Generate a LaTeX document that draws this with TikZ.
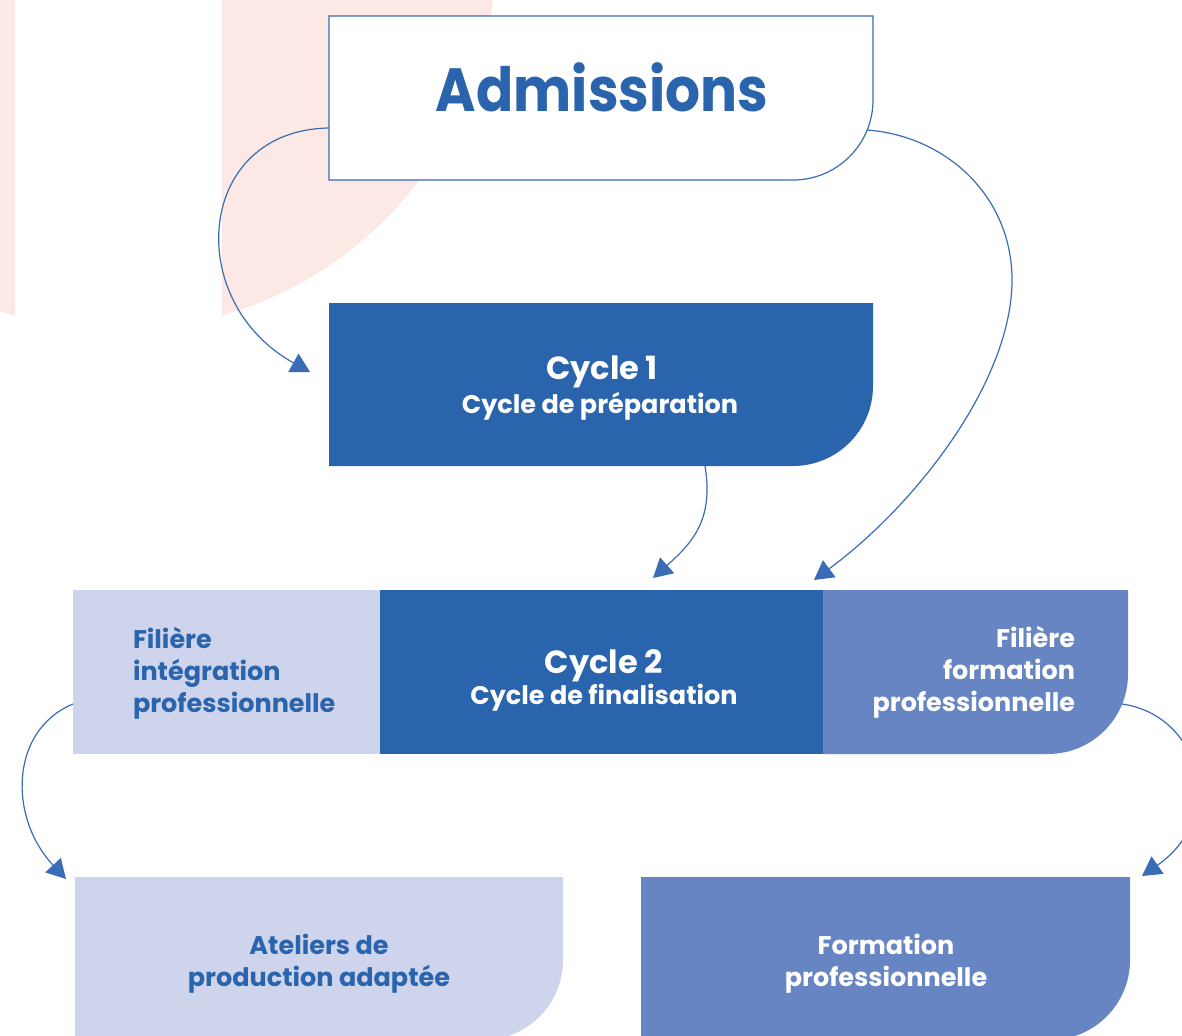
\documentclass[tikz,border=0pt]{standalone}
\usepackage{fontspec}
\usepackage{graphicx}
\setmainfont{Poppins}
\usetikzlibrary{arrows.meta,calc}
\definecolor{dblue}{HTML}{2964AC}
\definecolor{lav}{HTML}{CED4EC}
\definecolor{mblue}{HTML}{6785C2}
\definecolor{pinkbg}{HTML}{FCE8E5}
\definecolor{lineblue}{HTML}{3A6DB5}
\begin{document}
\begin{tikzpicture}[x=1pt,y=-1pt,
  box/.style={rectangle,inner sep=0pt,outer sep=0pt,draw=none},
  conn/.style={draw=lineblue,line width=1.2pt,-{Triangle[length=19pt,width=21pt]}},
  big/.style={font=\bfseries\fontsize{61}{66}\selectfont},
  ttl/.style={font=\bfseries\fontsize{32}{36}\selectfont},
  sub/.style={font=\bfseries\fontsize{25.5}{32}\selectfont},
  txt/.style={inner sep=0pt,outer sep=0pt,anchor=base}]
\useasboundingbox (0,0) rectangle (1182,1035);
\clip (0,0) rectangle (1182,1035);
\fill[white] (0,0) rectangle (1182,1035);
% pink background
\begin{scope}
  \clip (0,0) rectangle (15,400) (222,0) rectangle (700,400);
  \fill[pinkbg] (118,-48) circle[radius=378pt];
\end{scope}
% boxes
\node[box,minimum width=544pt,minimum height=164pt] (adm) at (601,98) {};
\node[box,minimum width=544pt,minimum height=163pt] (c1) at (601,384.5) {};
\node[box,minimum width=307pt,minimum height=164pt] (fil1) at (226.5,672) {};
\node[box,minimum width=443pt,minimum height=164pt] (c2) at (601.5,672) {};
\node[box,minimum width=305pt,minimum height=164pt] (fil2) at (975.5,672) {};
\node[box,minimum width=488pt,minimum height=163pt] (atel) at (319,958.5) {};
\node[box,minimum width=489pt,minimum height=163pt] (form) at (885.5,958.5) {};
\filldraw[fill=white,draw=lineblue,line width=1.2pt] (adm.north west) -- (adm.north east) -- ([yshift=80pt]adm.south east) arc[start angle=0,end angle=-90,radius=80pt] -- (adm.south west) -- cycle;
\fill[dblue] (c1.north west) -- (c1.north east) -- ([yshift=80pt]c1.south east) arc[start angle=0,end angle=-90,radius=80pt] -- (c1.south west) -- cycle;
\fill[lav] (fil1.north west) rectangle (fil1.south east);
\fill[dblue] (c2.north west) rectangle (c2.south east);
\fill[mblue] (fil2.north west) -- (fil2.north east) -- ([yshift=80pt]fil2.south east) arc[start angle=0,end angle=-90,radius=80pt] -- (fil2.south west) -- cycle;
\fill[lav] (atel.north west) -- (atel.north east) -- ([yshift=80pt]atel.south east) arc[start angle=0,end angle=-90,radius=80pt] -- (atel.south west) -- cycle;
\fill[mblue] (form.north west) -- (form.north east) -- ([yshift=80pt]form.south east) arc[start angle=0,end angle=-90,radius=80pt] -- (form.south west) -- cycle;
% texts
\node[txt,big,text=dblue] (tadm) at (602,112) {\scalebox{0.9}[1]{Admissions}};
\node[txt,ttl,text=white] (tc1) at (602,379) {Cycle 1};
\node[txt,sub,text=white] (tc1s) at (600,413) {Cycle de préparation};
\node[txt,ttl,text=white] (tc2) at (604,673) {Cycle 2};
\node[txt,sub,text=white] (tc2s) at (604,704) {Cycle de finalisation};
\node[txt,sub,text=dblue,anchor=base west,align=left] (tf1) at (133,712) {Filière\\intégration\\professionnelle};
\node[txt,sub,text=white,anchor=base east,align=right] (tf2) at (1075,711) {Filière\\formation\\professionnelle};
\node[txt,sub,text=dblue,align=center] (tat) at (319,986) {Ateliers de\\production adaptée};
\node[txt,sub,text=white,align=center] (tfo) at (886,986) {Formation\\professionnelle};
% connectors
\coordinate (s1) at ($(adm.west)+(0,30)$);
\coordinate (t1) at ($(c1.west)+(-19,-12.5)$);
\coordinate (s2) at ($(c1.south)+(104,0)$);
\coordinate (t2) at ($(c2.north)+(51.5,-12)$);
\coordinate (s3) at ($(adm.east)+(-6,32)$);
\coordinate (m3) at (1012,280);
\coordinate (t3) at ($(c2.north east)+(-9,-10)$);
\coordinate (s4) at ($(fil1.west)+(0,32)$);
\coordinate (t4) at ($(atel.north west)+(-9,2)$);
\coordinate (s5) at ($(fil2.east)+(-6,32)$);
\coordinate (t5) at ($(form.north east)+(12,-1)$);
\draw[conn] (s1) .. controls (196,130) and (182,301) .. (t1);
\draw[conn] (s2) .. controls (714,520) and (692,543) .. (t2);
\draw[conn] (s3) .. controls (947,136) and (1012,197) .. (m3) .. controls (1012,380) and (918,503) .. (t3);
\draw[conn] (s4) .. controls (10,730) and (8,817) .. (t4);
\draw[conn] (s5) .. controls (1200,715) and (1228,816) .. (t5);
\end{tikzpicture}
\end{document}
